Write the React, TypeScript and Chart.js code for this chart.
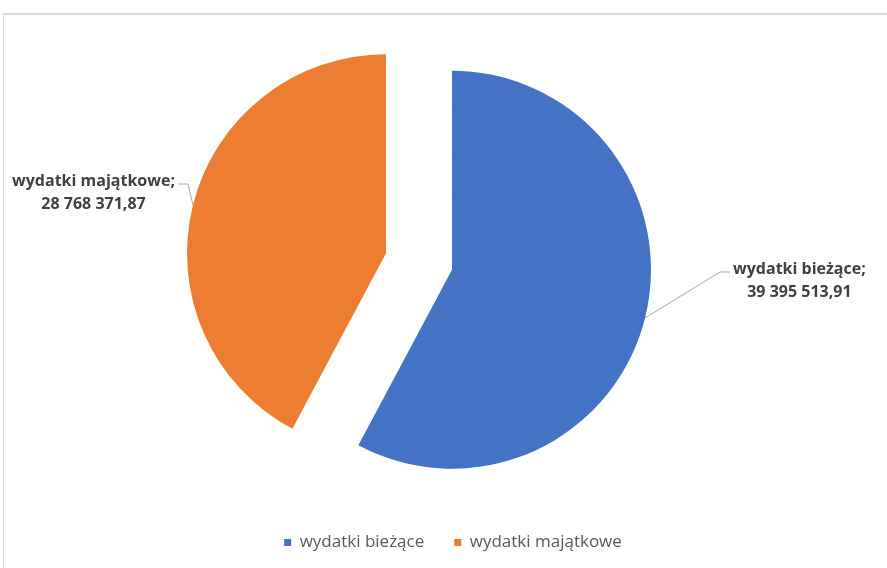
import React, { useEffect, useRef } from "react";
import { Chart, registerables } from "chart.js";

Chart.register(...registerables);

// ---- data ----
const categories = ["wydatki bieżące", "wydatki majątkowe"];
const values = [39395513.91, 28768371.87];
const colors = ["#4472C4", "#ED7D31"];

// ---- layout / style constants ----
const EXPLODE = 34;
const RADIUS = 199;
const LABEL_ELBOWS = [
  { dx: 75, dy: -46 },
  { dx: -5, dy: -21 },
];
const LABEL_FONT = 'bold 16px "Open Sans"';
const LABEL_COLOR = "#404040";
const LEADER_COLOR = "#a6a6a6";

function formatPL(v: number): string {
  const [i, d] = v.toFixed(2).split(".");
  return i.replace(/\B(?=(\d{3})+(?!\d))/g, " ") + "," + d;
}

const explodePlugin = {
  id: "explodeSlices",
  beforeDatasetDraw(chart: any, args: any) {
    const ctx = chart.ctx;
    args.meta.data.forEach((arc: any) => {
      const mid = (arc.startAngle + arc.endAngle) / 2;
      ctx.save();
      ctx.translate(Math.cos(mid) * EXPLODE, Math.sin(mid) * EXPLODE);
      arc.draw(ctx, chart.chartArea);
      ctx.restore();
    });
    return false;
  },
};

const labelPlugin = {
  id: "outsideLabels",
  afterDatasetsDraw(chart: any) {
    const ctx = chart.ctx;
    const meta = chart.getDatasetMeta(0);
    meta.data.forEach((arc: any, i: number) => {
      const mid = (arc.startAngle + arc.endAngle) / 2;
      const cx = arc.x + Math.cos(mid) * EXPLODE;
      const cy = arc.y + Math.sin(mid) * EXPLODE;
      const ex = cx + Math.cos(mid) * arc.outerRadius;
      const ey = cy + Math.sin(mid) * arc.outerRadius;
      const el = LABEL_ELBOWS[i];
      const bx = ex + el.dx;
      const by = ey + el.dy;
      const left = Math.cos(mid) < 0;
      const hx = bx + (left ? -10 : 10);
      ctx.save();
      ctx.strokeStyle = LEADER_COLOR;
      ctx.lineWidth = 1;
      ctx.beginPath();
      ctx.moveTo(ex, ey);
      ctx.lineTo(bx, by);
      ctx.lineTo(hx, by);
      ctx.stroke();

      const lines = [categories[i] + ";", formatPL(values[i])];
      ctx.font = LABEL_FONT;
      ctx.fillStyle = LABEL_COLOR;
      ctx.textAlign = "center";
      ctx.textBaseline = "middle";
      const w = Math.max(...lines.map((l) => ctx.measureText(l).width));
      const centerX = left ? hx - 3 - w / 2 : hx + 3 + w / 2;
      lines.forEach((l, k) => {
        ctx.fillText(l, centerX, by - 3 + k * 23);
      });
      ctx.restore();
    });
  },
};

export default function App() {
  const ref = useRef<HTMLCanvasElement | null>(null);

  useEffect(() => {
    if (!ref.current) return;
    const chart = new Chart(ref.current, {
      type: "pie",
      data: {
        labels: categories,
        datasets: [
          {
            data: values,
            backgroundColor: colors,
            borderWidth: 0,
          },
        ],
      },
      options: {
        animation: false,
        responsive: true,
        maintainAspectRatio: false,
        radius: RADIUS,
        layout: { padding: { top: 19, bottom: 7, left: 19, right: 0 } },
        plugins: {
          tooltip: { enabled: false },
          title: {
            display: true,
            position: "right",
            text: "",
            font: { size: 10, lineHeight: 1.2 },
            padding: { top: 0, bottom: 56 },
          },
          legend: {
            display: true,
            position: "bottom",
            labels: {
              boxWidth: 7,
              boxHeight: 7,
              padding: 30,
              color: "#595959",
              font: { family: "Open Sans", size: 17 },
            },
          },
        },
      } as any,
      plugins: [explodePlugin, labelPlugin],
    });
    return () => chart.destroy();
  }, []);

  return (
    <div
      style={{
        position: "fixed",
        left: 0,
        top: 0,
        width: 887,
        height: 568,
        background: "#fff",
        overflow: "hidden",
      }}
    >
      <div
        style={{
          position: "absolute",
          left: 3,
          top: 13,
          width: 900,
          height: 600,
          borderTop: "2px solid #d9d9d9",
          borderLeft: "1px solid #d9d9d9",
        }}
      />
      <div style={{ position: "absolute", left: 0, top: 0, width: 887, height: 568 }}>
        <canvas ref={ref} />
      </div>
    </div>
  );
}
